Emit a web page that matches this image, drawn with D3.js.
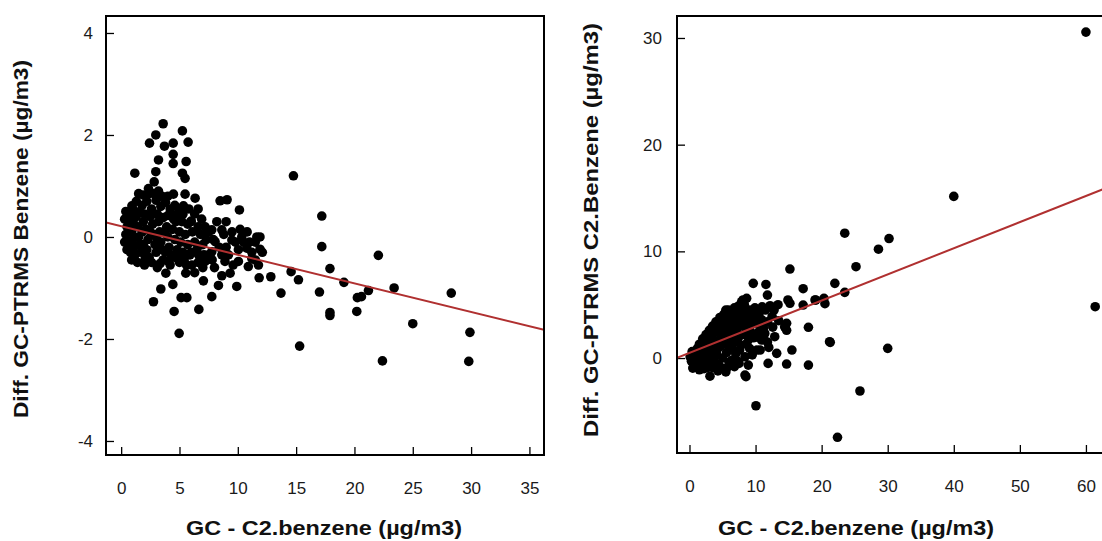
<!DOCTYPE html>
<html><head><meta charset="utf-8">
<script src="https://cdn.jsdelivr.net/npm/d3@7"></script>
<style>
body{margin:0;background:#fff;}
svg{display:block;font-family:"Liberation Sans",Arial,sans-serif;}
</style></head><body>
<svg id="c" width="1102" height="541"></svg>
<script>
// ---------- DATA ----------
const leftXTicks = [0,5,10,15,20,25,30,35];
const leftYTicks = [-4,-2,0,2,4];
const rightXTicks = [0,10,20,30,40,50,60];
const rightYTicks = [0,10,20,30];
const leftFit = [0.21, -0.056];   // intercept, slope
const rightFit = [0.49, 0.245];
const xTitle = "GC - C2.benzene (µg/m3)";
const leftYTitle = "Diff. GC-PTRMS Benzene (µg/m3)";
const rightYTitle = "Diff. GC-PTRMS C2.Benzene (µg/m3)";

const leftPoints = [
[3.6,2.22],[5.25,2.08],[2.97,2.0],[2.43,1.84],[3.71,1.78],[4.46,1.84],[5.74,1.86],[4.46,1.62],[3.2,1.51],[4.46,1.44],[5.57,1.48],[1.17,1.25],[2.97,1.28],[5.25,1.25],[5.48,1.15],[2.83,1.08],[2.34,0.95],[1.91,0.82],[4.48,0.84],[5.48,0.84],[6.34,0.76],[5.34,0.61],[8.48,0.71],[9.08,0.73],[10.14,0.53],[0.92,0.61],
[14.77,1.2],[17.2,0.41],[17.2,-0.19],[17.9,-0.62],[14.57,-0.68],[15.2,-0.84],[13.7,-1.1],[17.0,-1.08],[19.1,-0.89],[22.05,-0.36],[20.25,-1.19],[20.6,-1.17],[21.2,-1.05],[23.4,-1.0],[17.9,-1.48],[17.9,-1.54],[20.2,-1.46],[25.0,-1.7],[28.3,-1.1],[29.9,-1.87],[15.3,-2.14],[22.4,-2.43],[29.8,-2.44],
[3.83,-0.71],[5.54,-0.71],[7.05,-0.86],[8.63,-0.76],[9.34,-0.71],[8.34,-0.95],[9.91,-0.97],[11.83,-0.8],[12.83,-0.78],[4.43,-0.93],[3.4,-1.02],[2.77,-1.27],[5.14,-1.19],[5.63,-1.19],[7.77,-1.17],[4.54,-1.46],[6.66,-1.42],[4.97,-1.89],
[6.0,0.31],[7.77,0.14],[8.63,0.14],[10.34,0.0],[11.63,0.0],[8.05,-0.09],[9.49,-0.06],[11.9,-0.24],[10.05,-0.25],[10.77,-0.22],[11.2,-0.42],[11.77,-0.55],[10.05,-0.48],[7.77,-0.29],[7.2,-0.48],[8.9,-0.48],[8.63,-0.35],[6.63,-0.35],[6.06,-0.55],[4.9,-0.39],[4.05,-0.48],[3.34,-0.52],[2.06,-0.42],[10.9,-0.58],
[1.8,0.62],[2.2,0.7],[2.6,0.55],[3.0,0.72],[3.4,0.6],[3.8,0.68],[4.2,0.55],[4.6,0.62],[5.0,0.5],[2.0,0.45],[2.5,0.4],[3.1,0.45],[3.6,0.38],[4.0,0.42],[4.5,0.35],[5.2,0.3],[5.7,0.25],
[0.3,0.35],[0.5,0.2],[0.4,0.05],[0.6,-0.1],[0.5,-0.25],[0.8,0.3],[0.9,0.1],[1.0,-0.05],[1.1,-0.2],[1.3,0.4],[1.4,0.2],[1.5,0.0],[1.6,-0.15],[1.7,-0.3],[1.2,-0.35],[0.8,-0.3],
[1.9,0.3],[2.1,0.15],[2.3,-0.05],[2.2,-0.25],[2.4,-0.4],[2.7,0.25],[2.8,0.05],[2.9,-0.15],[3.0,-0.3],[3.2,0.3],[3.3,0.1],[3.4,-0.1],[3.5,-0.25],[3.6,-0.45],[2.6,-0.5],
[3.9,0.2],[4.0,0.0],[4.1,-0.2],[4.3,-0.35],[4.4,0.15],[4.6,-0.05],[4.8,-0.25],[5.0,0.1],[5.1,-0.1],[5.3,-0.3],[5.5,0.05],[5.7,-0.15],[5.9,-0.35],[6.1,0.1],[6.3,-0.1],[6.5,-0.25],[6.8,0.05],[7.0,-0.15],[7.3,-0.05],[7.5,-0.35],
[4.2,-0.55],[5.0,-0.5],[5.6,-0.55],[6.6,-0.5],[7.0,-0.6],[4.7,0.3],[6.0,0.3],[6.6,0.2],[7.2,0.2],[9.0,-0.2],[9.5,0.1],[10.5,-0.1],[11.2,-0.3],[11.5,-0.1],
[0.4,0.5],[0.7,0.45],[1.0,0.55],[1.3,0.7],[1.6,0.5],[1.5,0.85],[2.4,0.85],[2.8,0.85],[3.2,0.9],[3.5,0.8],[4.0,0.8],[1.1,0.25],[1.8,0.1],[2.5,0.1],[3.0,0.0],[3.7,0.1],[4.3,0.45],[4.8,0.45],[5.3,0.45],
[0.3,-0.1],[0.9,-0.45],[1.4,-0.5],[1.9,-0.15],[2.0,-0.55],[3.1,-0.6],[3.8,-0.3],[4.6,-0.4],[5.4,-0.45],[6.0,-0.3],[6.3,0.45],[6.9,0.35],[7.5,0.1],[7.9,-0.05],[8.2,0.3],[8.8,0.05],[9.2,-0.35],[9.8,-0.1],[10.2,0.15],[10.8,0.1],[11.0,-0.1],[11.9,0.0],[12.1,-0.3],[11.5,-0.45],[9.6,-0.55],[8.0,-0.6],[6.3,-0.7],[7.8,-0.45],[5.8,0.55],[6.6,0.55],[7.1,-0.35],[8.4,-0.2],[9.0,0.3]
];

const rightPoints = [
[60.0,30.55],[40.0,15.15],[23.5,11.7],[30.2,11.2],[28.6,10.2],[25.2,8.56],[22.0,7.0],[23.5,6.16],[17.2,6.5],[17.2,4.97],[19.1,5.44],[20.35,5.6],[20.5,5.1],[18.0,2.88],[21.3,1.47],[30.0,0.91],[18.0,-0.66],[25.8,-3.09],[22.4,-7.43],[61.4,4.81],[10.06,-4.47],
[15.2,8.34],[9.65,7.0],[11.57,6.9],[11.8,5.9],[8.1,5.44],[8.65,5.6],[13.4,5.0],[14.9,5.44],[15.2,5.13],[19.0,5.44],[14.7,3.25],[14.7,2.6],[12.9,2.0],[11.2,1.84],[10.7,0.75],[13.2,0.44],[15.5,0.75],[11.9,-0.5],[14.7,-0.56],[8.9,-0.66],[8.4,-1.6],[3.1,-1.7],[5.1,-0.97],[7.6,0.75],[8.4,0.12],[5.9,4.5],[7.9,5.28],[14.4,2.93],[21.2,1.53],[10.9,1.69],[10.2,0.75],[8.55,-1.75],[0.5,-0.94],[5.6,-0.97],
[0.1,0.1],[0.4,0.6],[0.6,-0.4],[0.9,0.3],[1.0,-0.8],[1.2,0.9],
[1.4,0.0],[1.5,1.3],[1.7,-0.6],[1.9,0.6],[2.0,1.8],[2.2,-0.2],[2.3,1.1],[2.5,2.2],[2.6,0.3],[2.7,-0.9],[2.8,1.5],[3.0,2.6],[3.0,0.7],
[3.2,-0.4],[3.3,1.9],[3.5,3.0],[3.6,1.0],[3.7,-0.2],[3.9,2.4],[4.0,3.4],[4.1,0.4],[4.2,1.6],[4.4,-0.6],[4.5,2.9],[4.6,3.8],[4.7,1.1],[4.8,2.0],[5.0,0.0],[5.0,3.3],
[5.2,4.1],[5.3,2.5],[5.4,1.4],[5.6,0.5],[5.7,3.6],[5.9,2.0],[6.0,4.1],[6.1,1.0],[6.2,3.0],[6.4,-0.2],[6.5,4.3],[6.6,2.4],[6.7,1.5],[6.9,3.6],[7.0,0.4],
[7.2,4.4],[7.3,2.8],[7.4,1.9],[7.6,3.9],[7.8,1.2],[8.0,4.6],[8.1,3.1],[8.3,2.2],[8.5,4.0],[8.7,1.4],[8.9,3.4],[9.1,4.5],[9.2,2.5],[9.5,3.8],[9.7,1.9],[9.9,4.7],
[10.2,3.2],[10.4,2.4],[10.6,4.3],[10.9,3.6],[11.2,2.8],[11.5,4.5],[11.8,3.4],[12.2,4.9],[12.5,3.9],
[5.5,-1.3],[6.8,-0.8],[7.3,-0.3],[9.5,0.3],[12.0,1.0],[4.3,-1.2],
[0.3,-0.3],[0.7,0.1],[1.1,0.5],[1.3,-0.3],[1.6,0.8],[1.8,0.2],[2.1,0.4],[2.4,1.5],[2.4,-0.5],[2.9,1.0],[3.1,1.7],[3.4,0.4],[3.5,2.3],[3.8,1.4],[4.0,2.6],[4.3,0.9],[4.3,3.0],[4.9,1.5],[5.1,2.7],[5.3,3.8],[5.5,4.5],[5.8,1.2],[6.2,3.6],[6.3,2.5],[6.8,3.0],[6.8,4.7],[7.0,2.2],[7.5,4.9],[7.6,3.2],[8.2,3.7],[8.3,5.0],[8.6,2.8],[9.0,1.8],[9.3,3.1],[9.7,4.2],[10.1,2.0],[10.5,3.8],[11.0,4.8],[11.4,2.3],[11.8,1.5],[12.6,2.9],[12.8,4.5],[13.5,3.5],[6.0,-0.4],[7.5,-0.5],[9.1,0.9],[6.5,0.9],[2.2,-1.0],[4.6,-0.9],[3.5,-0.9],[1.5,-1.1]
];

// ---------- DRAW ----------
const svg = d3.select("#c");
const font = '"Liberation Sans",Arial,sans-serif';

function panel(cfg){
  const {id,x0,x1,y0,y1,xd,yd,xt,yt,pts,fit,xPad,yPad,xTitleX,xTitleLen,yTitle,yTitleX,yTitleY,yTitleLen} = cfg;
  const x = d3.scaleLinear().domain(xd).range([x0,x1]);
  const y = d3.scaleLinear().domain(yd).range([y1,y0]);
  svg.append("clipPath").attr("id",id).append("rect")
    .attr("x",x0).attr("y",y0).attr("width",x1-x0).attr("height",y1-y0);

  const g = svg.append("g");
  const ax = g.append("g").attr("transform",`translate(0,${y1})`)
    .call(d3.axisBottom(x).tickValues(xt).tickSize(-8).tickPadding(xPad).tickFormat(d3.format("d")));
  const ay = g.append("g").attr("transform",`translate(${x0},0)`)
    .call(d3.axisLeft(y).tickValues(yt).tickSize(-8).tickPadding(yPad).tickFormat(d=>d<0?"-"+Math.abs(d):d));
  [ax,ay].forEach(a=>{
    a.select(".domain").remove();
    a.selectAll(".tick line").attr("stroke","#000").attr("stroke-width",1.3);
    a.selectAll(".tick text").attr("fill","#1a1a1a").style("font-size","17px").style("font-family",font);
  });

  g.append("g").attr("clip-path",`url(#${id})`).selectAll("circle").data(pts).join("circle")
    .attr("cx",d=>x(d[0])).attr("cy",d=>y(d[1])).attr("r",4.8).attr("fill","#000");

  g.append("line").attr("clip-path",`url(#${id})`)
    .attr("x1",x(xd[0])).attr("y1",y(fit[0]+fit[1]*xd[0]))
    .attr("x2",x(xd[1])).attr("y2",y(fit[0]+fit[1]*xd[1]))
    .attr("stroke","#b03030").attr("stroke-width",2);

  g.append("rect").attr("x",x0).attr("y",y0).attr("width",x1-x0).attr("height",y1-y0)
    .attr("fill","none").attr("stroke","#000").attr("stroke-width",2);

  svg.append("text").attr("x",xTitleX).attr("y",535).attr("text-anchor","middle")
    .attr("textLength",xTitleLen).attr("lengthAdjust","spacingAndGlyphs")
    .style("font-size","21px").style("font-weight","bold").style("font-family",font).attr("fill","#111")
    .text(xTitle);
  svg.append("text").attr("transform",`translate(${yTitleX},${yTitleY}) rotate(-90)`).attr("text-anchor","middle")
    .attr("textLength",yTitleLen).attr("lengthAdjust","spacingAndGlyphs")
    .style("font-size","21px").style("font-weight","bold").style("font-family",font).attr("fill","#111")
    .text(yTitle);
}

panel({id:"clipL",x0:106,x1:544,y0:16,y1:455,xd:[-1.3,36.25],yd:[-4.275,4.333],
  xt:leftXTicks,yt:leftYTicks,pts:leftPoints,fit:leftFit,xPad:27,yPad:13,
  xTitleX:324,xTitleLen:276,yTitle:leftYTitle,yTitleX:28,yTitleY:239,yTitleLen:358});

panel({id:"clipR",x0:677,x1:1116,y0:16,y1:453,xd:[-1.89,64.55],yd:[-8.9,32.06],
  xt:rightXTicks,yt:rightYTicks,pts:rightPoints,fit:rightFit,xPad:27,yPad:15,
  xTitleX:856,xTitleLen:276,yTitle:rightYTitle,yTitleX:598,yTitleY:230,yTitleLen:414});
</script>
</body></html>
